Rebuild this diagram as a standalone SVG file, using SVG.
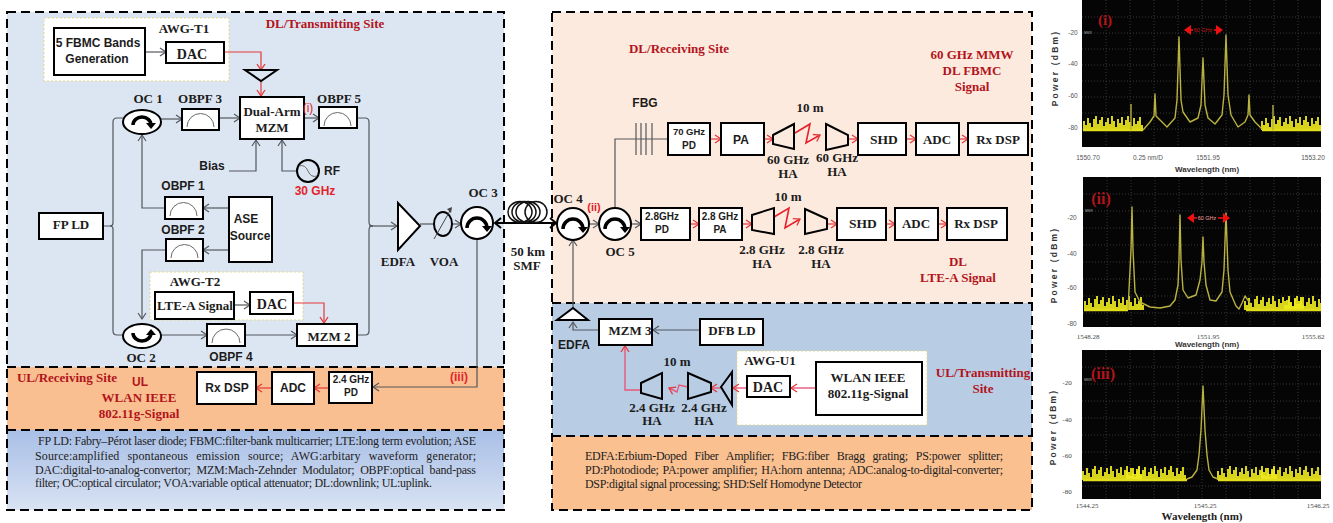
<svg xmlns="http://www.w3.org/2000/svg" width="1333" height="523" viewBox="0 0 1333 523">
<style>
text{font-family:"Liberation Serif","Times New Roman",serif;font-weight:700;font-size:13px;fill:#1c1c1c;text-anchor:middle}
.a{font-family:"Liberation Sans",Arial,sans-serif;font-size:12px}
.red{fill:#b3141c}
.brt{fill:#e3242b}
.leg{font-weight:400;font-size:12px;text-anchor:start;fill:#222}
.b{fill:#fff;stroke:#000;stroke-width:2}
.h{fill:none;stroke:#000;stroke-width:2;stroke-linejoin:miter}
.f{fill:none;stroke:#6a6a6a;stroke-width:1}
.d{fill:none;stroke:#000;stroke-width:2;stroke-dasharray:9 5}
.y{fill:#fff;stroke:#e4d98a;stroke-width:1;stroke-dasharray:2 2}
.g{fill:none;stroke:#53575c;stroke-width:1.2;marker-end:url(#ag)}
.gn{fill:none;stroke:#53575c;stroke-width:1.2}
.r{fill:none;stroke:#e5383b;stroke-width:1.2;marker-end:url(#ar)}
.rz{fill:none;stroke:#e5212b;stroke-width:1.6;marker-end:url(#ar)}
.k{fill:none;stroke:#e8587a;stroke-width:1.4;marker-end:url(#ar)}
.c{fill:#fff;stroke:#000;stroke-width:2}
.ca{fill:none;stroke:#000;stroke-width:3.5;marker-end:url(#ac)}
.grid{stroke:#4a4a4a;stroke-width:.7;stroke-dasharray:1 2;fill:none}
.n{fill:none;stroke:#f0ea1e;stroke-width:1.8}
.sp{fill:none;stroke:#b9b240;stroke-width:1.4;stroke-linejoin:round}
.ax{font-family:"Liberation Sans",Arial,sans-serif;font-weight:400;font-size:6.5px;fill:#555}
.axs{font-family:"Liberation Serif",serif;font-weight:400;font-size:7px;fill:#444}
.wl{font-family:"Liberation Sans",Arial,sans-serif;font-size:8px;fill:#333}
.pw{font-family:"Liberation Sans",Arial,sans-serif;font-size:8.5px;letter-spacing:2.2px;fill:#333}
.sm{font-weight:700;font-size:15px;fill:#b3141c}
.ghz{font-family:"Liberation Sans",Arial,sans-serif;font-weight:400;font-size:5.5px;fill:#c01a1a}
.mk{font-family:"Liberation Sans",Arial,sans-serif;font-weight:400;font-size:3.5px;fill:#aaa}
.da{fill:none;stroke:#f01010;stroke-width:1.6;marker-end:url(#ad)}
</style>
<defs>
<marker id="ag" markerUnits="userSpaceOnUse" markerWidth="10" markerHeight="10" refX="7" refY="5" orient="auto"><path d="M1 1L7 5L1 9" fill="none" stroke="#53575c" stroke-width="1.2"/></marker>
<marker id="ar" markerUnits="userSpaceOnUse" markerWidth="10" markerHeight="10" refX="7" refY="5" orient="auto"><path d="M1 1L7 5L1 9" fill="none" stroke="#e5383b" stroke-width="1.3"/></marker>
<marker id="ab" markerUnits="userSpaceOnUse" markerWidth="10" markerHeight="12" refX="7" refY="6" orient="auto-start-reverse"><path d="M1 1L7 6L1 11" fill="none" stroke="#000" stroke-width="2"/></marker>
<marker id="ac" markerUnits="userSpaceOnUse" markerWidth="10" markerHeight="10" refX="2" refY="5" orient="auto"><path d="M0 0L6 5L0 10Z" fill="#000"/></marker>
<marker id="ad" markerUnits="userSpaceOnUse" markerWidth="8" markerHeight="10" refX="5" refY="5" orient="auto"><path d="M0 0L7 5L0 10Z" fill="#f01010"/></marker>
<linearGradient id="lg" x1="0" y1="0" x2="0" y2="1"><stop offset="0" stop-color="#a8bfe6"/><stop offset=".6" stop-color="#c5d4ee"/><stop offset="1" stop-color="#d9e3f3"/></linearGradient>
<filter id="bl" x="-5%" y="-5%" width="110%" height="110%"><feGaussianBlur stdDeviation=".45"/></filter>
<path id="n1" class="n" d="M0 0v-9m2 9v-5m2 5v-12m2 12v-7m2 7v-3m2 3v-11m2 11v-14m2 14v-6m2 6v-10m2 10v-13m2 13v-4m2 4v-8m2 8v-12m2 12v-6m2 6v-14m2 14v-9m2 9v-3m2 3v-11m2 11v-7m2 7v-13m2 13v-5m2 5v-10m2 10v-14m2 14v-8m2 8v-4m2 4v-12m2 12v-6m2 6v-9m2 9v-13m2 13v-5"/>
<clipPath id="p1"><rect x="1082" y="0" width="239" height="147"/></clipPath>
<clipPath id="p2"><rect x="1083" y="177" width="238" height="150"/></clipPath>
<clipPath id="p3"><rect x="1082" y="350" width="239" height="149"/></clipPath>
</defs>

<g id="panels">
<rect x="7" y="12" width="497" height="355" fill="#dce6f2"/>
<rect x="7" y="367" width="497" height="63" fill="#f9bf90"/>
<rect x="7" y="430" width="497" height="80" fill="url(#lg)"/>
<rect x="552" y="12" width="480" height="291" fill="#fdeade"/>
<rect x="552" y="303" width="480" height="133" fill="#b8cce4"/>
<rect x="552" y="436" width="480" height="74" fill="#fac090"/>
<rect class="d" x="7" y="12" width="497" height="498"/>
<path class="d" d="M7 367H504M7 430H504"/>
<rect class="d" x="552" y="12" width="480" height="498"/>
<path class="d" d="M552 303H1032M552 436H1032"/>
<rect class="y" x="44" y="18" width="185" height="63"/>
<rect class="y" x="150" y="272" width="153" height="48"/>
<rect class="y" x="737" y="351" width="190" height="74"/>
</g>

<g id="connectors">
<path class="g" d="M145 52H166"/>
<path class="r" d="M224 52H261V70"/>
<path class="r" d="M261 81V96"/>
<path class="g" d="M161 119H182"/>
<path class="g" d="M219 118H240"/>
<path class="g" d="M304 118H319"/>
<path class="gn" d="M103 226H110Q113 226 113 223V122Q113 118 117 118H123"/>
<path class="gn" d="M110 226Q113 226 113 229V331Q113 335 117 335H123"/>
<path class="g" d="M229 208H203"/>
<path class="g" d="M165 208H142V135"/>
<path class="g" d="M229 250H203"/>
<path class="g" d="M166 250H142V319"/>
<path class="g" d="M161 335H207"/>
<path class="g" d="M245 335H297"/>
<path class="g" d="M234 305H250"/>
<path class="r" d="M293 303H324V323"/>
<path class="gn" d="M357 118H365Q369 118 369 122V222Q369 226 373 226"/>
<path class="gn" d="M357 335H365Q369 335 369 331V230Q369 226 373 226"/>
<path class="g" d="M369 226H397"/>
<path class="g" d="M229 171H256V140"/>
<path class="g" d="M297 171H282V140"/>
<path class="gn" d="M420 224H434"/>
<path class="g" d="M452 224H461"/>
<path d="M495 223H556" fill="none" stroke="#000" stroke-width="2" marker-start="url(#ab)" marker-end="url(#ab)"/>
<path class="g" d="M477 239V387H373"/>
<path class="r" d="M329 388H314"/>
<path class="r" d="M272 388H256"/>
<path class="g" d="M589 224H599"/>
<path class="g" d="M631 224H641"/>
<path class="gn" d="M615 208V139H668"/>
<path class="gn" d="M636 123V155M641 123V155M646 123V155M652 123V155"/>
<path class="r" d="M710 139H721"/>
<path class="r" d="M764 139H773"/>
<path class="rz" d="M795 133L810 124L806 143L820 135"/>
<path class="r" d="M848 139H858"/>
<path class="r" d="M906 139H916"/>
<path class="r" d="M959 139H968"/>
<path class="r" d="M690 224H699"/>
<path class="r" d="M742 224H752"/>
<path class="rz" d="M774 217L789 208L785 228L800 219"/>
<path class="r" d="M827 224H837"/>
<path class="r" d="M886 224H895"/>
<path class="r" d="M938 224H947"/>
<path class="g" d="M573 308V240"/>
<path class="g" d="M599 330H573V322"/>
<path class="g" d="M700 330H653"/>
<path class="k" d="M816 388H791"/>
<path class="k" d="M747 388H733"/>
<path class="k" d="M721 388H711"/>
<path class="k" d="M688 387L679 385L677 392L669 388"/>
<path class="k" d="M641 390H625V346"/>
</g>

<g id="bands"><rect class="b" x="54" y="28" width="91" height="47"/><text class="a" x="98" y="47">5 FBMC Bands</text><text class="a" x="97" y="63">Generation</text></g>
<g id="awgt1"><text x="184" y="33">AWG-T1</text></g>
<g id="dac1"><rect class="b" x="166" y="42" width="58" height="21"/><text x="192" y="59" style="font-size:14px">DAC</text></g>
<g id="amp1"><path class="h" d="M245 70H277L261 81Z"/></g>
<g id="mzm1"><rect class="b" x="240" y="97" width="64" height="42"/><text x="272" y="116">Dual-Arm</text><text x="272" y="132">MZM</text></g>
<g id="i1"><text class="a brt" x="308" y="112" style="font-weight:400">(i)</text></g>
<g id="oc1"><ellipse class="c" cx="142" cy="122" rx="19" ry="12"/><path class="ca" d="M133 125A9 8 0 0 1 151 125"/><text x="148" y="103">OC 1</text></g>
<g id="obpf3"><rect class="b" x="182" y="109" width="37" height="21"/><path class="f" d="M187 127A13 13 0 0 1 214 127"/><text x="200" y="103">OBPF 3</text></g>
<g id="obpf5"><rect class="b" x="319" y="107" width="38" height="21"/><path class="f" d="M324 126A13 13 0 0 1 351 126"/><text x="339" y="103">OBPF 5</text></g>
<g id="bias"><text class="a" x="212" y="170">Bias</text></g>
<g id="rf"><circle cx="308" cy="171" r="11" fill="#dce6f2" stroke="#000" stroke-width="2"/><path class="f" d="M299 166Q305 164 308 171T317 176"/><text class="a" x="332" y="175">RF</text><text class="a brt" x="315" y="195">30 GHz</text></g>
<g id="obpf1"><rect class="b" x="165" y="197" width="38" height="22"/><path class="f" d="M170 216A13 13 0 0 1 197 216"/><text class="a" x="183" y="190">OBPF 1</text></g>
<g id="obpf2"><rect class="b" x="166" y="239" width="37" height="22"/><path class="f" d="M171 258A13 13 0 0 1 198 258"/><text class="a" x="183" y="234">OBPF 2</text></g>
<g id="ase"><rect class="b" x="229" y="197" width="43" height="65"/><text class="a" x="246" y="223">ASE</text><text class="a" x="250" y="240">Source</text></g>
<g id="fpld"><rect class="b" x="39" y="213" width="64" height="26"/><text x="71" y="229">FP LD</text></g>
<g id="awgt2"><text x="195" y="286">AWG-T2</text></g>
<g id="lte"><rect class="b" x="155" y="292" width="79" height="27"/><text x="195" y="310">LTE-A Signal</text></g>
<g id="dac2"><rect class="b" x="250" y="292" width="43" height="22"/><text x="272" y="309" style="font-size:14px">DAC</text></g>
<g id="oc2"><ellipse class="c" cx="142" cy="336" rx="19" ry="12"/><path class="ca" d="M133 333A9 8 0 0 0 151 333"/><text x="141" y="362">OC 2</text></g>
<g id="obpf4"><rect class="b" x="207" y="324" width="38" height="22"/><path class="f" d="M212 343A13 13 0 0 1 240 343"/><text class="a" x="231" y="361">OBPF 4</text></g>
<g id="mzm2"><rect class="b" x="297" y="324" width="60" height="22"/><text x="329" y="341">MZM 2</text></g>
<g id="edfa1"><path class="b" d="M398 203V250L420 226Z"/><text x="398" y="266">EDFA</text></g>
<g id="voa"><ellipse cx="443" cy="224" rx="9" ry="12" fill="none" stroke="#000" stroke-width="2"/><path d="M434 239L451 209" fill="none" stroke="#444" stroke-width="1"/><path d="M452 207L447 209L451 213Z" fill="#444"/><text x="444" y="266">VOA</text></g>
<g id="oc3"><circle class="c" cx="477" cy="223" r="16"/><path class="ca" d="M467 228A10 10 0 0 1 487 228"/><text x="483" y="197">OC 3</text></g>
<g id="smf"><ellipse cx="520" cy="212" rx="12" ry="10.500" fill="none" stroke="#111" stroke-width="1.500"/><ellipse cx="524" cy="212" rx="12" ry="10.500" fill="none" stroke="#111" stroke-width="1.500"/><ellipse cx="528" cy="212" rx="12" ry="10.500" fill="none" stroke="#111" stroke-width="1.500"/><ellipse cx="536" cy="212" rx="11" ry="10.500" fill="none" stroke="#111" stroke-width="1.500"/><text x="528" y="256">50 km</text><text x="527" y="270">SMF</text></g>
<g id="ulrx"><text class="red" x="67" y="382">UL/Receiving Site</text><text class="a red" x="140" y="386">UL</text><text class="red" x="139" y="402">WLAN IEEE</text><text class="red" x="139" y="418">802.11g-Signal</text><text class="a brt" x="459" y="381">(iii)</text></g>
<g id="rxdsp3"><rect class="b" x="197" y="372" width="59" height="32"/><text class="a" x="227" y="392">Rx DSP</text></g>
<g id="adc3"><rect class="b" x="272" y="372" width="42" height="32"/><text class="a" x="293" y="392">ADC</text></g>
<g id="pd3"><rect class="b" x="329" y="372" width="43" height="31"/><text class="a" x="351" y="383" style="font-size:10px">2.4 GHz</text><text class="a" x="351" y="396" style="font-size:10px">PD</text></g>
<g id="dltx"><text class="red" x="325" y="28">DL/Transmitting  Site</text></g>
<g id="legend1">
<text class="leg" x="38" y="445" textLength="438">FP LD: Fabry–Pérot laser diode; FBMC:filter-bank multicarrier; LTE:long term evolution; ASE</text>
<text class="leg" x="35" y="460" textLength="441" style="word-spacing:5px">Source:amplified spontaneous emission source; AWG:arbitary waveform generator;</text>
<text class="leg" x="35" y="474" textLength="441" style="word-spacing:3px">DAC:digital-to-analog-convertor;  MZM:Mach-Zehnder Modulator; OBPF:optical band-pass</text>
<text class="leg" x="35" y="487" textLength="397">filter; OC:optical circulator; VOA:variable optical attenuator; DL:downlink; UL:uplink.</text>
</g>

<g id="dlrx"><text class="red" x="679" y="53">DL/Receiving Site</text><text class="red" x="972" y="59">60 GHz MMW</text><text class="red" x="972" y="75">DL FBMC</text><text class="red" x="972" y="91">Signal</text></g>
<g id="fbg"><text class="a" x="645" y="107">FBG</text></g>
<g id="pd70"><rect class="b" x="668" y="123" width="42" height="32"/><text class="a" x="689" y="135" style="font-size:9.500px">70 GHz</text><text class="a" x="689" y="149" style="font-size:10px">PD</text></g>
<g id="pa1"><rect class="b" x="721" y="123" width="43" height="32"/><text class="a" x="741" y="144">PA</text></g>
<g id="ha1"><path class="h" d="M773 135L794 124V149L773 144Z"/><text x="788" y="164">60 GHz</text><text x="788" y="178">HA</text></g>
<g id="ten1"><text x="810" y="112">10 m</text></g>
<g id="ha2"><path class="h" d="M826 124L848 135V145L826 150Z"/><text x="837" y="162">60 GHz</text><text x="837" y="176">HA</text></g>
<g id="shd1"><rect class="b" x="858" y="123" width="48" height="32"/><text x="884" y="144" style="font-size:13.500px">SHD</text></g>
<g id="adc1"><rect class="b" x="916" y="123" width="43" height="32"/><text x="937" y="144">ADC</text></g>
<g id="rxdsp1"><rect class="b" x="968" y="123" width="60" height="32"/><text x="998" y="144">Rx DSP</text></g>
<g id="oc4"><circle class="c" cx="573" cy="224" r="16"/><path class="ca" d="M563 229A10 10 0 0 1 583 229"/><text x="568" y="203">OC 4</text></g>
<g id="ii"><text class="a brt" x="594" y="211" style="font-size:11px">(ii)</text></g>
<g id="oc5"><circle class="c" cx="615" cy="224" r="16"/><path class="ca" d="M605 229A10 10 0 0 1 625 229"/><text x="620" y="256">OC 5</text></g>
<g id="pd28"><rect class="b" x="641" y="208" width="49" height="32"/><text class="a" x="662" y="220" style="font-size:10px">2.8GHz</text><text class="a" x="662" y="233" style="font-size:10px">PD</text></g>
<g id="pa28"><rect class="b" x="699" y="208" width="43" height="32"/><text class="a" x="720" y="220" style="font-size:10px">2.8 GHz</text><text class="a" x="720" y="233" style="font-size:10px">PA</text></g>
<g id="ha3"><path class="h" d="M752 215L774 208V234L752 230Z"/><text x="762" y="254">2.8 GHz</text><text x="762" y="268">HA</text></g>
<g id="ten2"><text x="788" y="201">10 m</text></g>
<g id="ha4"><path class="h" d="M805 209L827 219V229L805 234Z"/><text x="821" y="254">2.8 GHz</text><text x="821" y="268">HA</text></g>
<g id="shd2"><rect class="b" x="837" y="208" width="49" height="32"/><text x="863" y="228" style="font-size:13.500px">SHD</text></g>
<g id="adc2"><rect class="b" x="895" y="208" width="43" height="32"/><text x="916" y="228">ADC</text></g>
<g id="rxdsp2"><rect class="b" x="947" y="208" width="60" height="32"/><text x="976" y="228">Rx DSP</text></g>
<g id="dllte"><text class="red" x="958" y="266">DL</text><text class="red" x="958" y="282">LTE-A Signal</text></g>
<g id="edfa2"><path class="b" d="M557 320H588L573 308Z"/><text class="a" x="574" y="349">EDFA</text></g>
<g id="mzm3"><rect class="b" x="599" y="319" width="53" height="26"/><text x="630" y="335">MZM 3</text></g>
<g id="dfb"><rect class="b" x="700" y="319" width="63" height="26"/><text x="732" y="335">DFB LD</text></g>
<g id="ten3"><text x="677" y="366">10 m</text></g>
<g id="ha5"><path class="h" d="M641 383L662 373V399L641 393Z"/><text x="652" y="412">2.4 GHz</text><text x="652" y="425">HA</text></g>
<g id="ha6"><path class="h" d="M688 373L711 383V392L688 399Z"/><text x="704" y="412">2.4 GHz</text><text x="704" y="425">HA</text></g>
<g id="amp2"><path class="h" d="M721 387L732 372V405Z"/></g>
<g id="awgu1"><text x="770" y="365">AWG-U1</text></g>
<g id="dacu"><rect class="b" x="747" y="376" width="43" height="21"/><text x="768" y="392" style="font-size:14px">DAC</text></g>
<g id="wlan"><rect class="b" x="816" y="362" width="106" height="53"/><text x="868" y="382">WLAN IEEE</text><text x="868" y="398">802.11g-Signal</text></g>
<g id="ultx"><text class="red" x="983" y="377">UL/Transmitting</text><text class="red" x="983" y="393">Site</text></g>
<g id="legend2">
<text class="leg" x="585" y="460" textLength="418" style="word-spacing:5px">EDFA:Erbium-Doped Fiber Amplifier; FBG:fiber Bragg grating; PS:power splitter;</text>
<text class="leg" x="585" y="474" textLength="418" style="word-spacing:1px">PD:Photodiode; PA:power amplifier; HA:horn antenna; ADC:analog-to-digital-converter;</text>
<text class="leg" x="585" y="488" textLength="277">DSP:digital signal processing; SHD:Self Homodyne Detector</text>
</g>

<g id="spectrum1">
<rect x="1082" y="0" width="239" height="147" fill="#050505"/>
<g clip-path="url(#p1)" filter="url(#bl)">
<path class="grid" d="M1106 0V147M1130 0V147M1154 0V147M1178 0V147M1202 0V147M1226 0V147M1250 0V147M1274 0V147M1298 0V147M1082 17H1321M1082 33H1321M1082 49H1321M1082 65H1321M1082 81H1321M1082 97H1321M1082 113H1321M1082 129H1321"/>
<use href="#n1" x="1084" y="130"/><use href="#n1" x="1262" y="130"/>
<path d="M1083 130H1143M1262 130H1321" stroke="#e3de1e" stroke-width="2.500" fill="none"/>
<path class="sp" d="M1131 130V104M1273 130V105M1143 130L1150 122L1154 116L1155 94L1156 116L1160 120L1167 127L1175 118L1177 100L1179 37L1181 100L1183 112L1190 122L1198 118L1201 105L1203 58L1205 105L1208 118L1215 124L1222 115L1224 95L1226 35L1228 95L1231 115L1238 127L1245 122L1248 115L1249 95L1250 115L1255 122L1262 129"/>
</g>
<path class="da" d="M1193 30H1186"/><path class="da" d="M1214 30H1221"/>
<text class="ghz" x="1203" y="32">60 GHz</text>
<text class="mk" x="1088" y="34">MKR</text>
<text class="sm" x="1105" y="25">(i)</text>
<text class="ax" x="1073" y="35">-20</text><text class="ax" x="1073" y="66">-40</text><text class="ax" x="1073" y="98">-60</text><text class="ax" x="1073" y="130">-80</text>
<text class="ax" x="1088" y="160">1550.70</text><text class="ax" x="1148" y="160">0.25 nm/D</text><text class="ax" x="1208" y="160">1551.95</text><text class="ax" x="1313" y="160">1553.20</text>
<text class="wl" x="1207" y="172">Wavelength (nm)</text>
<text class="pw" transform="translate(1058 68) rotate(-90)">Power (dBm)</text>
</g>

<g id="spectrum2">
<rect x="1083" y="177" width="238" height="150" fill="#050505"/>
<g clip-path="url(#p2)" filter="url(#bl)">
<path class="grid" d="M1107 177V327M1131 177V327M1155 177V327M1179 177V327M1202 177V327M1226 177V327M1250 177V327M1274 177V327M1298 177V327M1083 194H1321M1083 211H1321M1083 228H1321M1083 245H1321M1083 262H1321M1083 279H1321M1083 296H1321M1083 313H1321"/>
<use href="#n1" x="1085" y="310"/><use href="#n1" x="1245" y="310"/><use href="#n1" x="1285" y="310"/>
<path d="M1084 310H1128M1246 310H1321" stroke="#e3de1e" stroke-width="2.500" fill="none"/>
<path class="sp" d="M1128 310L1129 290L1131 250L1132 207L1133 250L1135 292L1140 302L1150 307L1160 308L1170 306L1175 300L1178 285L1179 260L1180 215L1181 260L1183 290L1188 298L1196 295L1200 280L1202 262L1203 237L1204 262L1206 285L1210 300L1216 301L1222 292L1224 270L1226 213L1228 270L1230 292L1236 306L1239 309L1242 303L1245 296L1250 303"/>
</g>
<path class="da" d="M1197 218H1189"/><path class="da" d="M1218 218H1228"/>
<text class="ghz" x="1207" y="220" style="fill:#f0a0a0">60 GHz</text>
<text class="mk" x="1089" y="212">MKR</text>
<text class="sm" x="1101" y="204" style="font-size:16px">(ii)</text>
<text class="ax" x="1072" y="220">-20</text><text class="ax" x="1072" y="256">-40</text><text class="ax" x="1072" y="290">-60</text><text class="ax" x="1072" y="326">-80</text>
<text class="axs" x="1088" y="339">1548.28</text><text class="axs" x="1208" y="339">1551.95</text><text class="axs" x="1313" y="339">1555.62</text>
<text class="wl" x="1207" y="347">Wavelength (nm)</text>
<text class="pw" transform="translate(1057 265) rotate(-90)">Power (dBm)</text>
</g>

<g id="spectrum3">
<rect x="1082" y="350" width="239" height="149" fill="#050505"/>
<g clip-path="url(#p3)" filter="url(#bl)">
<path class="grid" d="M1106 350V499M1130 350V499M1154 350V499M1178 350V499M1202 350V499M1226 350V499M1250 350V499M1274 350V499M1298 350V499M1082 367H1321M1082 384H1321M1082 401H1321M1082 418H1321M1082 435H1321M1082 452H1321M1082 469H1321M1082 486H1321"/>
<use href="#n1" x="1083" y="480"/><use href="#n1" x="1127" y="480"/><use href="#n1" x="1218" y="480"/><use href="#n1" x="1262" y="480"/>
<path d="M1083 480H1187M1218 480H1321" stroke="#e3de1e" stroke-width="2.500" fill="none"/>
<path class="sp" d="M1187 479L1192 477L1197 470L1199 455L1201 430L1203 386L1205 430L1207 455L1209 470L1213 477L1218 479"/>
</g>
<text class="mk" x="1088" y="381">MKR</text>
<text class="sm" x="1103" y="379" style="font-size:16px">(iii)</text>
<text class="axs" x="1067" y="385">-20</text><text class="axs" x="1067" y="422">-40</text><text class="axs" x="1067" y="458">-60</text><text class="axs" x="1067" y="494">-80</text>
<text class="axs" x="1087" y="508">1544.25</text><text class="axs" x="1205" y="508">1545.25</text><text class="axs" x="1318" y="508">1546.25</text>
<text x="1202" y="520" style="font-size:11px;fill:#222">Wavelength (nm)</text>
<text class="pw" transform="translate(1056 427) rotate(-90)">Power (dBm)</text>
</g>
</svg>
